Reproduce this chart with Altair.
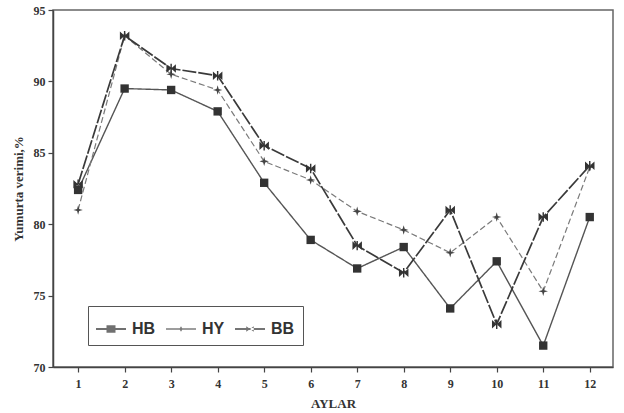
import altair as alt
import pandas as pd

months = list(range(1, 13))
hb = [82.4, 89.5, 89.4, 87.9, 82.9, 78.9, 76.9, 78.4, 74.1, 77.4, 71.5, 80.5]
hy = [81.0, 93.2, 90.5, 89.4, 84.4, 83.1, 80.9, 79.6, 78.0, 80.5, 75.3, 84.0]
bb = [82.8, 93.2, 90.9, 90.4, 85.5, 83.9, 78.5, 76.6, 81.0, 73.0, 80.5, 84.1]
series_names = ["HB", "HY", "BB"]
y_ticks = [70, 75, 80, 85, 90, 95]

rows = []
for name, vals in zip(series_names, [hb, hy, bb]):
    for m, v in zip(months, vals):
        rows.append({"Ay": m, "Deger": v, "Seri": name})
df = pd.DataFrame(rows)

xs = alt.Scale(domain=[0.46, 12.5], nice=False, zero=False)
ys = alt.Scale(domain=[70, 95], nice=False, zero=False)

X = alt.X("Ay:Q", scale=xs, axis=alt.Axis(values=months, title="AYLAR", format="d"))
Y = alt.Y("Deger:Q", scale=ys, axis=alt.Axis(values=y_ticks, title="Yumurta verimi,%"))

# marker paths
star4 = "M0,-1L0.22,-0.22L1,0L0.22,0.22L0,1L-0.22,0.22L-1,0L-0.22,-0.22Z"
bowtie = "M-1,-0.9L0,0L-1,0.9Z M1,-0.9L0,0L1,0.9Z M-0.15,-1H0.15V1H-0.15Z"

styles = {
    "HB": dict(line="#555555", lw=1.4, dash=[1, 0], pt="#333333", shape="square", size=70),
    "HY": dict(line="#7a7a7a", lw=1.2, dash=[6, 3], pt="#444444", shape=star4, size=90),
    "BB": dict(line="#3a3a3a", lw=1.7, dash=[14, 2], pt="#333333", shape=bowtie, size=90),
}

layers = []
for name in series_names:
    s = styles[name]
    base = alt.Chart(df).transform_filter(alt.datum.Seri == name)
    layers.append(base.mark_line(color=s["line"], strokeWidth=s["lw"], strokeDash=s["dash"]).encode(x=X, y=Y))
for name in series_names:
    s = styles[name]
    base = alt.Chart(df).transform_filter(alt.datum.Seri == name)
    layers.append(base.mark_point(shape=s["shape"], filled=True, color=s["pt"], size=s["size"], opacity=1).encode(x=X, y=Y))

# legend-only layer (symbols with a line through the marker)
leg_hb = "M-1,-0.07H1V0.07H-1Z M-0.3,-0.25H0.3V0.25H-0.3Z"
leg_hy = "M-1,-0.05H1V0.05H-1Z M0,-0.18L0.08,-0.05L0.25,0L0.08,0.05L0,0.18L-0.08,0.05L-0.25,0L-0.08,-0.05Z"
leg_bb = "M-1,-0.06H1V0.06H-1Z M-0.25,-0.18L0,0L-0.25,0.18Z M0.25,-0.18L0,0L0.25,0.18Z"
leg = alt.Legend(orient="none", legendX=35, legendY=296, direction="horizontal",
                 title=None, strokeColor="#555555", padding=8,
                 labelFont="Liberation Sans", labelFontSize=16, labelFontWeight="bold",
                 labelColor="#333333", symbolSize=900, labelOffset=6,
                 columnPadding=10, symbolStrokeWidth=0)
legend_layer = alt.Chart(df).transform_filter("false").mark_point(filled=True, size=900).encode(
    x=X, y=Y,
    color=alt.Color("Seri:N", scale=alt.Scale(domain=series_names, range=["#333333", "#444444", "#3a3a3a"]),
                    legend=leg),
    shape=alt.Shape("Seri:N", scale=alt.Scale(domain=series_names, range=[leg_hb, leg_hy, leg_bb]),
                    legend=leg),
)

chart = alt.layer(*layers, legend_layer).properties(
    width=560, height=357,
    autosize=alt.AutoSizeParams(type="none"),
    padding={"left": 53, "top": 10, "right": 11, "bottom": 46},
    background="white",
).configure_view(
    stroke="#666666", strokeWidth=1.5
).configure_axis(
    grid=False,
    domainColor="#444444", domainWidth=1.5,
    tickColor="#444444", tickSize=5, tickWidth=1.2,
    labelFont="Liberation Serif", labelFontSize=12, labelFontWeight="bold", labelColor="#333333",
    titleFont="Liberation Serif", titleFontSize=13, titleFontWeight="bold", titleColor="#333333",
).configure_axisY(
    titlePadding=8, labelPadding=3
).configure_axisX(
    titlePadding=8, labelPadding=6
)

chart.save("out.html", embed_options={"renderer": "svg", "actions": False})
